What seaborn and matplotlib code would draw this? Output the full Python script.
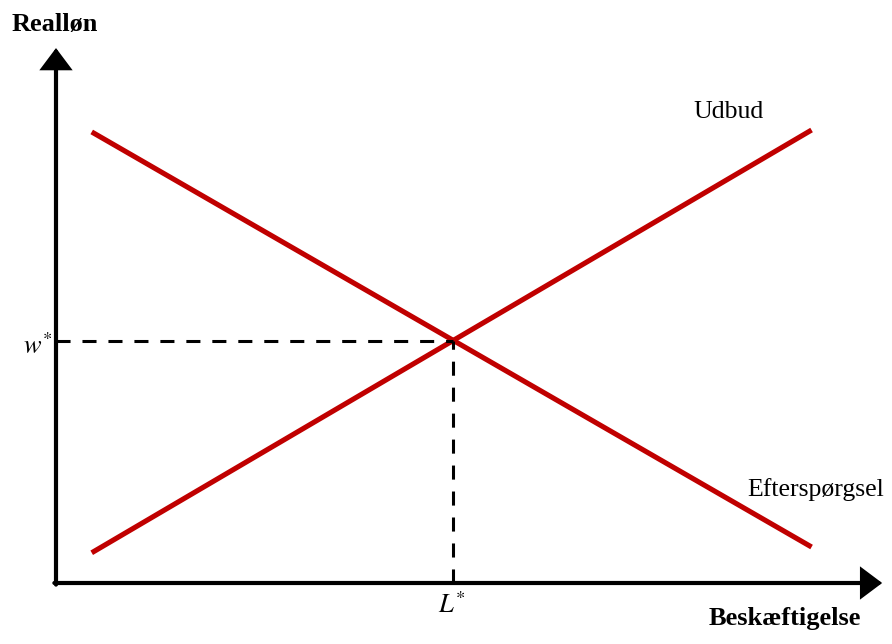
import matplotlib
matplotlib.use("Agg")
import matplotlib.pyplot as plt
import seaborn as sns
import pandas as pd

# ---- data (abstract units) ----
employment = [0.45, 9.52]
demand_wage = [9.40, 0.75]
supply_wage = [0.63, 9.44]
eq_employment = 5.0
eq_wage = 5.05
curve_labels = ["Udbud", "Efterspørgsel"]
axis_labels = ["Beskæftigelse", "Realløn"]

sns.set_theme(style="white")
plt.rcParams['font.family'] = ['Liberation Serif', 'DejaVu Serif']
plt.rcParams['text.color'] = 'black'

W, H = 892, 644
fig = plt.figure(figsize=(W / 100, H / 100), dpi=100)
fig.patch.set_facecolor("white")
x0, x1 = 56, 883
y0, y1 = 583, 47
ax = fig.add_axes([x0 / W, (H - y0) / H, (x1 - x0) / W, (y0 - y1) / H])
ax.set_facecolor("white")

df = pd.DataFrame({
    "L": employment + employment,
    "w": demand_wage + supply_wage,
    "curve": ["Efterspørgsel"] * 2 + ["Udbud"] * 2,
})
sns.lineplot(data=df, x="L", y="w", units="curve", estimator=None,
             color="#C00000", linewidth=3.7, ax=ax, legend=False,
             solid_capstyle="butt")

ax.set_xlim(0, 10.42)
ax.set_ylim(0, 11.17)

# dashed guides
ax.plot([0, eq_employment], [eq_wage, eq_wage], color="black", lw=2.2,
        linestyle=(0, (4.6, 3.9)))
ax.plot([eq_employment, eq_employment], [0, eq_wage], color="black", lw=2.2,
        linestyle=(0, (4.6, 3.9)))

# axes arrows
for spine in ax.spines.values():
    spine.set_visible(False)
ax.set_xticks([])
ax.set_yticks([])
ax.set_xlabel("")
ax.set_ylabel("")
arrow = dict(arrowstyle="-|>,head_length=0.6,head_width=0.45", color="black",
             lw=3, mutation_scale=20, shrinkA=0, shrinkB=0, joinstyle="miter")
ax.annotate("", xy=(0.999, 0), xytext=(-0.002, 0), xycoords="axes fraction",
            textcoords="axes fraction", arrowprops=arrow, annotation_clip=False)
ax.annotate("", xy=(0, 0.998), xytext=(0, -0.003), xycoords="axes fraction",
            textcoords="axes fraction", arrowprops=arrow, annotation_clip=False)

def ft(px, py, s, **kw):
    fig.text(px / W, 1 - py / H, s, color="black", **kw)

ft(55, 25, axis_labels[1], ha="center", va="center", fontsize=19, fontweight="bold")
ft(785, 618, axis_labels[0], ha="center", va="center", fontsize=19, fontweight="bold")
ft(729, 112, curve_labels[0], ha="center", va="center", fontsize=18.5)
ft(816, 490, curve_labels[1], ha="center", va="center", fontsize=18.5)
ft(52, 346, r"$w^{*}$", ha="right", va="center", fontsize=19,
   math_fontfamily="stix")
ft(452, 605, r"$L^{*}$", ha="center", va="center", fontsize=19,
   math_fontfamily="stix")

fig.savefig("out.png", dpi=100, facecolor="white")
